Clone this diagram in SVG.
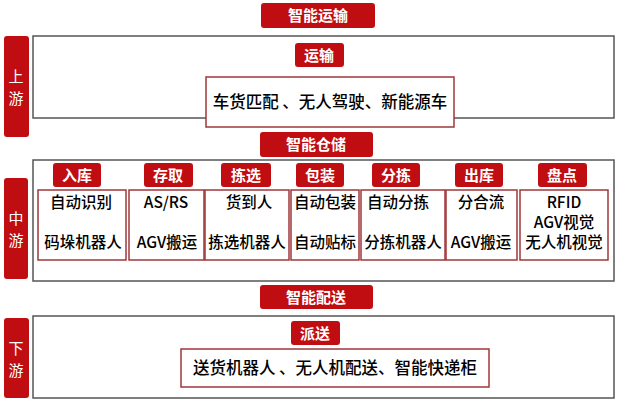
<svg xmlns="http://www.w3.org/2000/svg" width="618" height="400" viewBox="0 0 618 400">
<style>
text{font-family:"Noto Sans CJK SC","Liberation Sans",sans-serif;}
.tag{fill:#c00d12;}
.tt{fill:#fff;font-size:15px;text-anchor:middle;font-weight:bold;}
.side{fill:#c00d12;}
.st{fill:#fff;font-size:15px;text-anchor:middle;}
.main{fill:#fff;stroke:#555;stroke-width:1.5;}
.cell{fill:#fff;stroke:#a0373a;stroke-width:1.5;}
.ct{fill:#000;font-size:15.5px;text-anchor:middle;font-weight:500;}
</style>
<rect width="618" height="400" fill="#fff"/>
<g id="up">
<rect class="tag" x="261" y="3" width="114" height="25" rx="3"/><text class="tt" x="318" y="21">智能运输</text>
<rect class="main" x="33" y="36" width="581" height="82"/>
<rect class="side" x="4" y="36" width="25" height="101" rx="3"/><text class="st" x="16" y="82">上</text><text class="st" x="16" y="104">游</text>
<rect class="tag" x="295" y="43" width="49" height="24" rx="3"/><text class="tt" x="319" y="61">运输</text>
<rect class="cell" x="206" y="77" width="248" height="50"/><text class="ct" x="330" y="108" style="font-size:16.5px">车货匹配 、无人驾驶、新能源车</text>
</g>
<g id="mid">
<rect class="tag" x="260" y="132" width="113" height="25" rx="3"/><text class="tt" x="316" y="150">智能仓储</text>
<rect class="main" x="33" y="160" width="581" height="121"/>
<rect class="side" x="4" y="178" width="24" height="101" rx="3"/><text class="st" x="16" y="224">中</text><text class="st" x="16" y="246">游</text>
<g id="c1"><rect class="tag" x="53" y="163" width="48" height="24" rx="3"/><text class="tt" x="77" y="181">入库</text><rect class="cell" x="38" y="190" width="88" height="70"/><text class="ct" x="81" y="208">自动识别</text><text class="ct" x="83" y="248">码垛机器人</text></g>
<g id="c2"><rect class="tag" x="144" y="163" width="49" height="24" rx="3"/><text class="tt" x="168" y="181">存取</text><rect class="cell" x="129" y="190" width="75" height="70"/><text class="ct" x="166" y="208">AS/RS</text><text class="ct" x="167" y="248">AGV搬运</text></g>
<g id="c3"><rect class="tag" x="221" y="163" width="50" height="24" rx="3"/><text class="tt" x="246" y="181">拣选</text><rect class="cell" x="205" y="190" width="84" height="70"/><text class="ct" x="249" y="208">货到人</text><text class="ct" x="247" y="248">拣选机器人</text></g>
<g id="c4"><rect class="tag" x="296" y="163" width="48" height="24" rx="3"/><text class="tt" x="320" y="181">包装</text><rect class="cell" x="291" y="190" width="68" height="70"/><text class="ct" x="325" y="208">自动包装</text><text class="ct" x="325" y="248">自动贴标</text></g>
<g id="c5"><rect class="tag" x="372" y="163" width="48" height="24" rx="3"/><text class="tt" x="396" y="181">分拣</text><rect class="cell" x="361" y="190" width="84" height="70"/><text class="ct" x="398" y="208">自动分拣</text><text class="ct" x="403" y="248">分拣机器人</text></g>
<g id="c6"><rect class="tag" x="455" y="163" width="48" height="24" rx="3"/><text class="tt" x="479" y="181">出库</text><rect class="cell" x="446" y="190" width="71" height="70"/><text class="ct" x="481" y="208">分合流</text><text class="ct" x="481" y="248">AGV搬运</text></g>
<g id="c7"><rect class="tag" x="538" y="163" width="49" height="24" rx="3"/><text class="tt" x="562" y="181">盘点</text><rect class="cell" x="520" y="190" width="88" height="70"/><text class="ct" x="564" y="208">RFID</text><text class="ct" x="564" y="228">AGV视觉</text><text class="ct" x="564" y="248">无人机视觉</text></g>
</g>
<g id="down">
<rect class="tag" x="260" y="285" width="113" height="24" rx="3"/><text class="tt" x="316" y="303">智能配送</text>
<rect class="main" x="33" y="316" width="581" height="82"/>
<rect class="side" x="4" y="318" width="25" height="80" rx="3"/><text class="st" x="16" y="354">下</text><text class="st" x="16" y="376">游</text>
<rect class="tag" x="291" y="321" width="49" height="24" rx="3"/><text class="tt" x="315" y="339">派送</text>
<rect class="cell" x="181" y="349" width="308" height="38"/><text class="ct" x="335" y="374" style="font-size:16.5px">送货机器人 、无人机配送、智能快递柜</text>
</g>
<g id="connectors"/>
</svg>
